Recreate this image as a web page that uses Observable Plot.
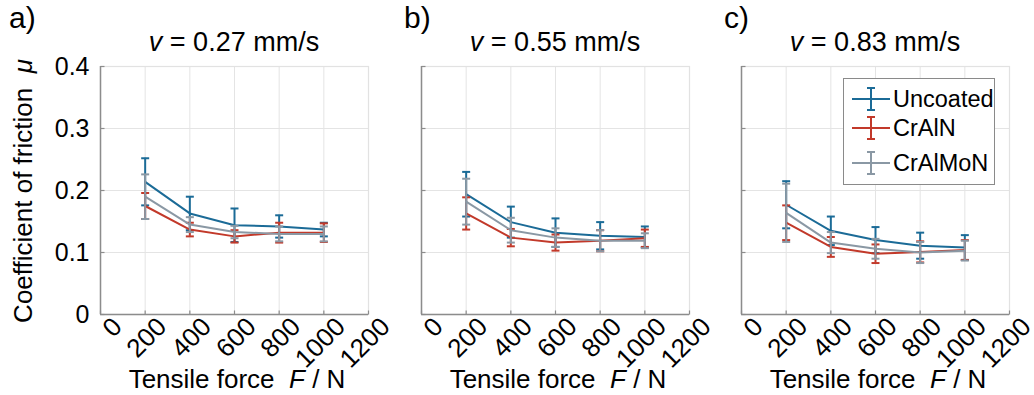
<!DOCTYPE html>
<html>
<head>
<meta charset="utf-8">
<script src="https://cdn.jsdelivr.net/npm/d3@7"></script>
<script src="https://cdn.jsdelivr.net/npm/@observablehq/plot@0.6"></script>
<style>
  html, body { margin: 0; padding: 0; background: #fff; }
  #wrap { position: relative; width: 1034px; height: 395px; overflow: hidden; font-family: Arial, "Liberation Sans", sans-serif; color: #000; }
  .panel { position: absolute; top: 0; }
  .lbl { position: absolute; white-space: nowrap; font-size: 26px; line-height: 1; }
  .legend { position: absolute; left: 843px; top: 78px; width: 152px; height: 107px; border: 1.5px solid #8a8a8a; background: #fff; box-sizing: border-box; }
  .lrow { position: absolute; left: 0; height: 24px; }
  .lline { position: absolute; left: 8px; width: 38px; top: 11px; height: 2px; }
  .lbar { position: absolute; left: 26px; width: 2px; top: 0; height: 24px; }
  .lcap { position: absolute; left: 23px; width: 8px; height: 2px; }
  .ltext { position: absolute; left: 49px; top: 0; font-size: 23.5px; line-height: 24px; }
</style>
</head>
<body>
<div id="wrap"></div>
<script>
// ---- data ----
const forces = [200, 400, 600, 800, 1000];
const seriesNames = ["Uncoated", "CrAlN", "CrAlMoN"];
const seriesColors = ["#1b6b97", "#c2392a", "#8a98a4"];
const speeds = ["0.27", "0.55", "0.83"];
const panelLetters = ["a)", "b)", "c)"];
const xTicks = [0, 200, 400, 600, 800, 1000, 1200];
const yTicks = [0, 0.1, 0.2, 0.3, 0.4];

// v = 0.27 mm/s
const uncoatedA = [0.214, 0.163, 0.144, 0.142, 0.137];
const uncoatedErrA = [0.038, 0.027, 0.027, 0.018, 0.011];
const crAlNA = [0.175, 0.137, 0.126, 0.132, 0.132];
const crAlNErrA = [0.021, 0.011, 0.010, 0.016, 0.015];
const crAlMoNA = [0.190, 0.145, 0.133, 0.130, 0.130];
const crAlMoNErrA = [0.036, 0.012, 0.010, 0.012, 0.012];

// v = 0.55 mm/s
const uncoatedB = [0.194, 0.149, 0.132, 0.127, 0.125];
const uncoatedErrB = [0.036, 0.025, 0.023, 0.022, 0.017];
const crAlNB = [0.163, 0.124, 0.116, 0.119, 0.123];
const crAlNErrB = [0.026, 0.014, 0.013, 0.017, 0.014];
const crAlMoNB = [0.182, 0.136, 0.124, 0.119, 0.119];
const crAlMoNErrB = [0.037, 0.020, 0.015, 0.017, 0.012];

// v = 0.83 mm/s
const uncoatedC = [0.177, 0.135, 0.120, 0.111, 0.108];
const uncoatedErrC = [0.038, 0.023, 0.021, 0.021, 0.020];
const crAlNC = [0.148, 0.109, 0.098, 0.101, 0.104];
const crAlNErrC = [0.028, 0.016, 0.015, 0.017, 0.016];
const crAlMoNC = [0.164, 0.116, 0.106, 0.100, 0.103];
const crAlMoNErrC = [0.047, 0.017, 0.016, 0.017, 0.016];

const panelData = [
  [[uncoatedA, uncoatedErrA], [crAlNA, crAlNErrA], [crAlMoNA, crAlMoNErrA]],
  [[uncoatedB, uncoatedErrB], [crAlNB, crAlNErrB], [crAlMoNB, crAlMoNErrB]],
  [[uncoatedC, uncoatedErrC], [crAlNC, crAlNErrC], [crAlMoNC, crAlMoNErrC]]
];

// ---- drawing ----
const FONT = "Arial, 'Liberation Sans', sans-serif";
const capSymbol = { draw(ctx, size) { ctx.moveTo(-4, 0); ctx.lineTo(4, 0); } };
const xTickSym = { draw(ctx, size) { ctx.moveTo(0, 0); ctx.lineTo(0, -4); } };
const yTickSym = { draw(ctx, size) { ctx.moveTo(0, 0); ctx.lineTo(4, 0); } };

const wrap = document.getElementById("wrap");
const panelLefts = [0, 321, 641];
const letterLefts = [9, 404, 724];

panelData.forEach((series, p) => {
  const rows = [];
  series.forEach(([vals, errs], s) => {
    forces.forEach((f, i) => rows.push({series: seriesNames[s], s, F: f, mu: vals[i], lo: vals[i] - errs[i], hi: vals[i] + errs[i]}));
  });
  const marks = [
    Plot.gridX(xTicks, {stroke: "#e4e4e4", strokeOpacity: 1, strokeWidth: 1}),
    Plot.gridY(yTicks, {stroke: "#e4e4e4", strokeOpacity: 1, strokeWidth: 1}),
    Plot.frame({stroke: "#e2e2e2", strokeWidth: 1.2}),
    Plot.ruleX([0], {stroke: "#8c8c8c", strokeWidth: 1.5}),
    Plot.ruleY([0], {stroke: "#8c8c8c", strokeWidth: 1.5}),
    Plot.dot(xTicks, {x: d => d, y: 0, symbol: xTickSym, stroke: "#8c8c8c", strokeWidth: 1.2, r: 4}),
    Plot.dot(yTicks, {x: 0, y: d => d, symbol: yTickSym, stroke: "#8c8c8c", strokeWidth: 1.2, r: 4}),
    Plot.text(xTicks, {x: d => d, frameAnchor: "bottom", text: d => String(d), rotate: -45, textAnchor: "end", lineAnchor: "middle", dx: 17, dy: 8, fontSize: 26, fill: "#000"})
  ];
  if (p === 0) {
    marks.push(Plot.text(yTicks, {y: d => d, frameAnchor: "left", text: d => d === 0 ? "0" : d.toFixed(1), textAnchor: "end", dx: -11, fontSize: 25, fill: "#000"}));
  }
  seriesNames.forEach((name, s) => {
    const data = rows.filter(r => r.s === s);
    const c = seriesColors[s];
    marks.push(Plot.line(data, {x: "F", y: "mu", stroke: c, strokeWidth: 2}));
    marks.push(Plot.ruleX(data, {x: "F", y1: "lo", y2: "hi", stroke: c, strokeWidth: 2}));
    marks.push(Plot.dot(data, {x: "F", y: "lo", symbol: capSymbol, stroke: c, strokeWidth: 2, r: 4}));
    marks.push(Plot.dot(data, {x: "F", y: "hi", symbol: capSymbol, stroke: c, strokeWidth: 2, r: 4}));
  });
  const chart = Plot.plot({
    width: 380, height: 395,
    marginLeft: 100, marginRight: 12, marginTop: 66, marginBottom: 81,
    x: {domain: [0, 1200], axis: null},
    y: {domain: [0, 0.4], axis: null},
    style: {background: "transparent", fontFamily: FONT, overflow: "visible"},
    marks
  });
  chart.classList.add("panel");
  chart.style.left = panelLefts[p] + "px";
  wrap.appendChild(chart);

  const plotCenter = panelLefts[p] + 100 + 134;
  const t = document.createElement("div");
  t.className = "lbl";
  t.style.fontSize = "27px";
  t.innerHTML = `<i>v</i> = ${speeds[p]} mm/s`;
  t.style.left = plotCenter + "px"; t.style.top = "29px"; t.style.transform = "translateX(-50%)";
  wrap.appendChild(t);

  const l = document.createElement("div");
  l.className = "lbl";
  l.style.fontSize = "30px";
  l.textContent = panelLetters[p];
  l.style.left = letterLefts[p] + "px"; l.style.top = "3px";
  wrap.appendChild(l);

  const xl = document.createElement("div");
  xl.className = "lbl";
  xl.innerHTML = `Tensile force&nbsp;&nbsp;<i>F</i> / N`;
  xl.style.left = (plotCenter + 3) + "px"; xl.style.top = "366px"; xl.style.transform = "translateX(-50%)";
  wrap.appendChild(xl);
});

// y-axis title
const yl = document.createElement("div");
yl.className = "lbl";
yl.innerHTML = `Coefficient of friction&nbsp;&nbsp;<i>μ</i>`;
yl.style.left = "23px"; yl.style.top = "191px";
yl.style.transform = "translate(-50%, -50%) rotate(-90deg)";
wrap.appendChild(yl);

// legend
const legend = document.createElement("div");
legend.className = "legend";
const rowTops = [8, 37, 72];
seriesNames.forEach((name, s) => {
  const c = seriesColors[s];
  const row = document.createElement("div");
  row.className = "lrow";
  row.style.top = rowTops[s] + "px";
  row.innerHTML = `<div class="lline" style="background:${c}"></div>
    <div class="lbar" style="background:${c}"></div>
    <div class="lcap" style="background:${c};top:0"></div>
    <div class="lcap" style="background:${c};top:22px"></div>
    <div class="ltext">${name}</div>`;
  legend.appendChild(row);
});
wrap.appendChild(legend);
</script>
</body>
</html>
